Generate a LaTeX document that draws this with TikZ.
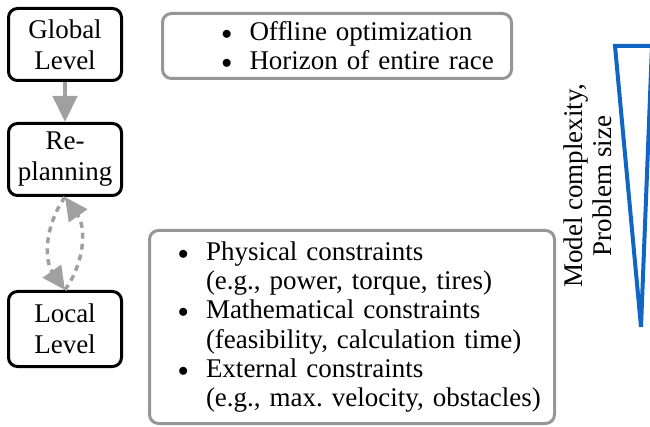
\documentclass[tikz,border=0pt]{standalone}
\usepackage{fontspec}
\setmainfont{Liberation Serif}
\usetikzlibrary{arrows.meta}
\definecolor{boxgray}{RGB}{150,150,150}
\definecolor{arrgray}{RGB}{160,160,160}
\definecolor{triblue}{RGB}{16,102,196}
\newcommand{\bul}{\makebox[28pt][l]{\raisebox{1pt}{\fontsize{20}{20}\selectfont$\bullet$}}}
\begin{document}
\begin{tikzpicture}[x=1pt,y=-1pt,
  font=\fontsize{27}{29.1}\selectfont,
  lvlbox/.style={draw=black, line width=3pt, rounded corners=9pt, align=center,
    inner sep=0pt, minimum width=113pt, font=\fontsize{27}{31}\selectfont},
  infobox/.style={draw=boxgray, line width=3pt, rounded corners=9pt, align=left,
    inner sep=0pt},
  solidarrow/.style={draw=arrgray, fill=arrgray, line width=4.5pt,
    -{Triangle[length=26pt,width=24pt]}},
  dasharrow/.style={draw=arrgray, line width=3.5pt, dash pattern=on 6pt off 5pt,
    -{Triangle[length=23pt,width=22pt]}}]
\useasboundingbox (0,0) rectangle (650,427);
\clip (0,0) rectangle (650,427);

\node[lvlbox, minimum height=72pt] (glob) at (65,44.5) {Global\\Level};
\node[lvlbox, minimum height=72pt] (rep) at (65,159.5) {Re-\\planning};
\node[lvlbox, minimum height=75pt] (loc) at (65,329) {Local\\Level};

\node[infobox, text width=349pt, minimum height=65pt] (top) at (337,46)
  {\hspace*{59pt}\bul Offline optimization\\\hspace*{59pt}\bul Horizon of entire race};

\node[infobox, text width=405pt, minimum height=193pt] (bot) at (352,327)
  {\hspace*{28.5pt}\bul Physical constraints\\
   \hspace*{56.5pt}(e.g., power, torque, tires)\\
   \hspace*{28.5pt}\bul Mathematical constraints\\
   \hspace*{56.5pt}(feasibility, calculation time)\\
   \hspace*{28.5pt}\bul External constraints\\
   \hspace*{56.5pt}(e.g., max.\ velocity, obstacles)};

\draw[solidarrow] (glob.south) -- (rep.north);
\draw[dasharrow] (rep.south) to[bend right=35] (loc.north);
\draw[dasharrow] (loc.north) to[bend right=35] (rep.south);

\node[rotate=90, align=center, inner sep=0pt] (lbl) at (588,186)
  {Model complexity,\\Problem size};

\coordinate (tl) at (615,46);
\coordinate (tr) at (652,46);
\coordinate (ap) at (641,327);
\draw[triblue, line width=4pt, line join=miter] (tl) -- (tr) -- (ap) -- cycle;
\end{tikzpicture}
\end{document}
